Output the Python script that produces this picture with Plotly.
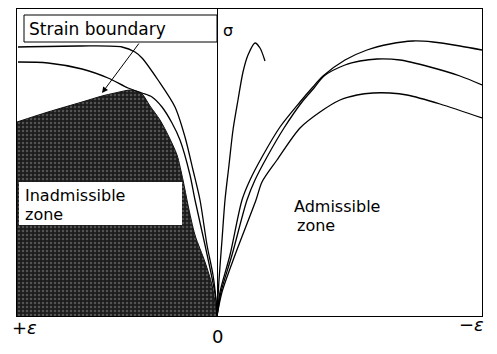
import plotly.graph_objects as go

# strain (+ to the left, - to the right) and stress, arbitrary units
boundary_eps = [2.00, 1.69, 1.35, 1.15, 1.02, 0.85, 0.75, 0.67, 0.57, 0.48, 0.40, 0.34, 0.29, 0.22, 0.12, 0.05, 0.0]
boundary_sig = [1.94, 2.04, 2.14, 2.20, 2.23, 2.26, 2.22, 2.10, 1.96, 1.79, 1.61, 1.36, 1.11, 0.81, 0.54, 0.31, 0.0]

curveA_eps = [1.99, 1.37, 0.95, 0.82, 0.75, 0.59, 0.42, 0.32, 0.24, 0.17, 0.10, 0.04, 0.01, 0.0]
curveA_sig = [2.69, 2.70, 2.69, 2.64, 2.58, 2.36, 2.09, 1.79, 1.46, 1.16, 0.71, 0.41, 0.16, 0.0]

curveB_eps = [1.99, 1.69, 1.35, 1.09, 0.89, 0.75, 0.65, 0.55, 0.45, 0.37, 0.27, 0.22, 0.12, 0.05, 0.01, 0.0]
curveB_sig = [2.54, 2.53, 2.47, 2.38, 2.28, 2.23, 2.19, 2.09, 1.93, 1.76, 1.41, 1.16, 0.71, 0.38, 0.16, 0.0]

narrow_eps = [0.0, -0.02, -0.05, -0.08, -0.12, -0.16, -0.21, -0.26, -0.31, -0.38, -0.43, -0.48]
narrow_sig = [0.0, 0.36, 0.76, 1.16, 1.51, 1.86, 2.16, 2.44, 2.61, 2.73, 2.68, 2.55]

r1_eps = [0.0, -0.03, -0.13, -0.25, -0.33, -0.45, -0.63, -0.83, -0.95, -1.06, -1.28, -1.50, -1.73, -1.96, -2.16, -2.43, -2.65]
r1_sig = [0.0, 0.24, 0.61, 1.16, 1.36, 1.59, 1.89, 2.14, 2.28, 2.40, 2.56, 2.66, 2.72, 2.75, 2.74, 2.70, 2.66]

r2_eps = [0.0, -0.04, -0.15, -0.30, -0.38, -0.50, -0.67, -0.85, -0.97, -1.07, -1.28, -1.43, -1.60, -1.83, -2.13, -2.43, -2.65]
r2_sig = [0.0, 0.24, 0.61, 1.16, 1.36, 1.59, 1.88, 2.14, 2.28, 2.40, 2.51, 2.55, 2.57, 2.56, 2.49, 2.40, 2.31]

r3_eps = [0.0, -0.05, -0.18, -0.39, -0.45, -0.60, -0.83, -1.03, -1.23, -1.40, -1.56, -1.73, -1.90, -2.23, -2.65]
r3_sig = [0.0, 0.24, 0.61, 1.16, 1.34, 1.56, 1.88, 2.04, 2.16, 2.21, 2.23, 2.23, 2.21, 2.12, 1.98]

FONT = "DejaVu Sans"
line_style = dict(color="black", width=1.3, shape="spline", smoothing=0.8)

fig = go.Figure()

# inadmissible (shaded) zone under the strain boundary
fig.add_trace(go.Scatter(x=boundary_eps, y=boundary_sig, mode="lines",
                         line=dict(color="#111", width=1, shape="spline", smoothing=0.8),
                         fill="tozeroy", fillcolor="#222",
                         fillpattern=dict(shape=".", bgcolor="#1c1c1c", fgcolor="#8a8a8a",
                                          size=4, solidity=0.3),
                         hoverinfo="skip"))

for xs, ys in [(curveA_eps, curveA_sig), (curveB_eps, curveB_sig), (narrow_eps, narrow_sig),
               (r1_eps, r1_sig), (r2_eps, r2_sig), (r3_eps, r3_sig)]:
    fig.add_trace(go.Scatter(x=xs, y=ys, mode="lines", line=line_style, hoverinfo="skip"))

# label boxes
fig.add_shape(type="rect", x0=1.93, x1=0.0, y0=2.74, y1=3.01,
              line=dict(color="black", width=1), fillcolor="white", layer="above")
fig.add_shape(type="rect", x0=1.98, x1=0.35, y0=0.91, y1=1.34,
              line=dict(width=0), fillcolor="white", layer="above")

txt = dict(family=FONT, size=16, color="black")
notes = [
    ("Strain boundary", 1.89, 2.875, 17),
    ("Inadmissible", 1.93, 1.21, 16),
    ("zone", 1.93, 1.02, 16),
    ("Admissible", -0.76, 1.10, 16),
    ("zone", -0.79, 0.91, 16),
]
for t, x, y, sz in notes:
    fig.add_annotation(text=t, x=x, y=y, xanchor="left", yanchor="middle",
                       showarrow=False, font=dict(family=FONT, size=sz, color="black"),
                       borderpad=0)

fig.add_annotation(text="σ", x=-0.11, y=2.86, showarrow=False, font=txt)

# arrow pointing at the boundary
fig.add_annotation(text="", x=1.15, y=2.23, ax=0.77, ay=2.74, axref="x", ayref="y",
                   showarrow=True, arrowhead=2, arrowsize=1.2, arrowwidth=1, arrowcolor="black")

# axis end labels, below the frame (paper y so they are not hidden)
axis_font = dict(family=FONT, size=18, color="black")
for t, x, y in [("<i>+ε</i>", 1.93, -0.039), ("0", 0.0, -0.068), ("−<i>ε</i>", -2.54, -0.029)]:
    fig.add_annotation(text=t, x=x, y=y, yref="paper", xanchor="center", yanchor="middle",
                       showarrow=False, font=axis_font)

fig.update_xaxes(range=[2.0, -2.65], showgrid=False, showticklabels=False, ticks="",
                 zeroline=True, zerolinecolor="black", zerolinewidth=1,
                 showline=True, mirror=True, linecolor="black", linewidth=1)
fig.update_yaxes(range=[0, 3.07], showgrid=False, showticklabels=False, ticks="",
                 zeroline=False, showline=True, mirror=True, linecolor="black", linewidth=1)

# page body adds an 8px offset, so the figure is sized to fit the window
fig.update_layout(width=489, height=346, margin=dict(l=9, r=15, t=1, b=38),
                  paper_bgcolor="white", plot_bgcolor="white", showlegend=False)

fig.write_html("out.html")
